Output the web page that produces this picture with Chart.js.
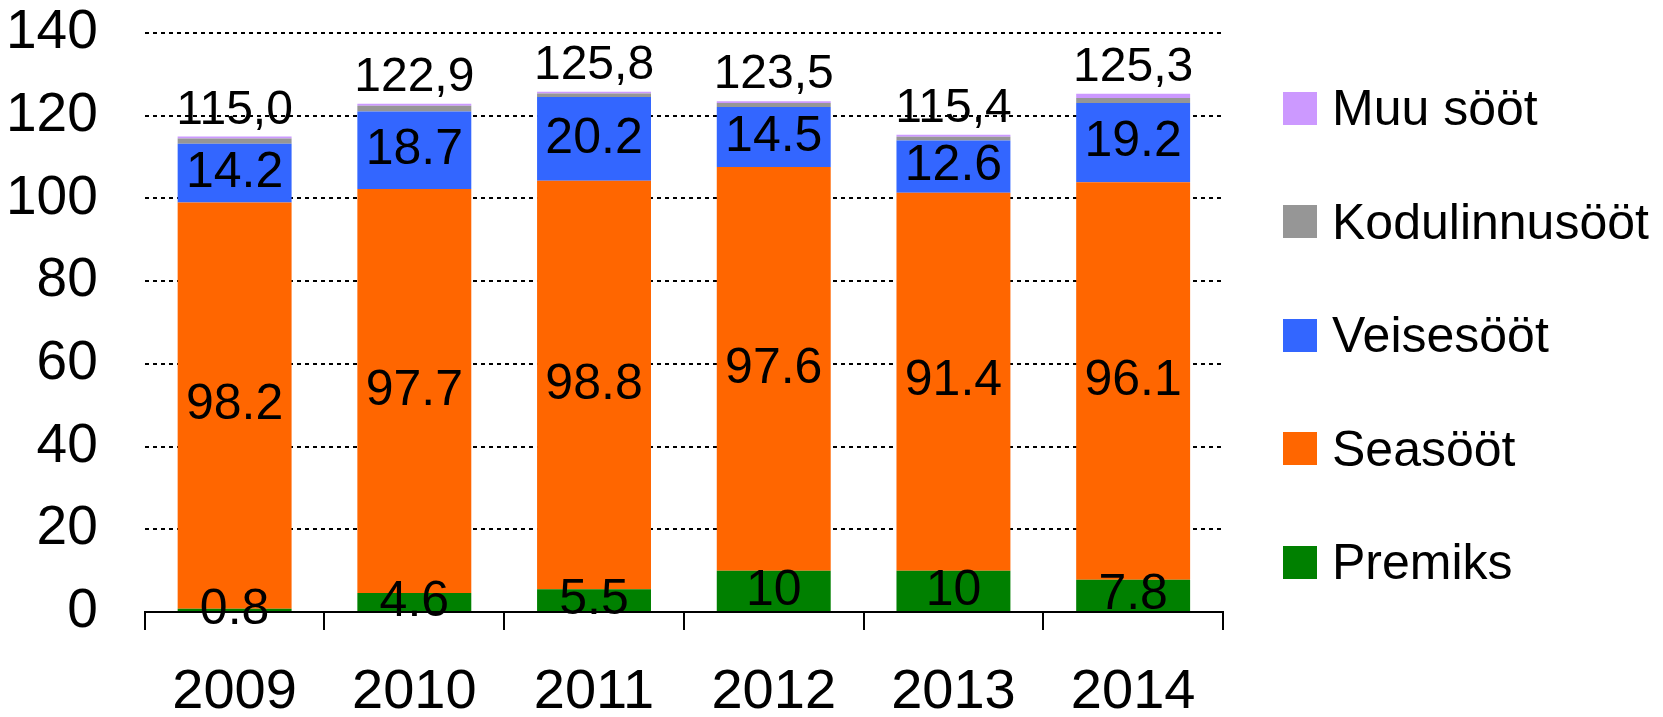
<!DOCTYPE html>
<html lang="et">
<head>
<meta charset="UTF-8">
<title>Söödad</title>
<style>
  html, body { margin: 0; padding: 0; background: #fff; }
  .wrap { position: relative; width: 1663px; height: 717px; }
  #graafik { position: absolute; left: 0; top: 0; }
  .legend { position: absolute; left: 1283px; top: 83px; font-family: "Liberation Sans", Arial, sans-serif; font-size: 50px; color: #000; }
  .legend div { display: flex; align-items: center; height: 50px; margin-bottom: 63.5px; white-space: nowrap; }
  .legend span { display: inline-block; width: 34px; height: 33px; margin-right: 15px; }
</style>
</head>
<body>
<div class="wrap">
  <canvas id="graafik" width="1663" height="717"></canvas>
  <div class="legend" id="legend"></div>
</div>

<script src="https://cdn.jsdelivr.net/npm/chart.js"></script>
<script>
// andmed
const aastad = ['2009', '2010', '2011', '2012', '2013', '2014'];
const premiks = [0.8, 4.6, 5.5, 10, 10, 7.8];
const seasoot = [98.2, 97.7, 98.8, 97.6, 91.4, 96.1];
const veisesoot = [14.2, 18.7, 20.2, 14.5, 12.6, 19.2];
const kodulinnusoot = [1.3, 1.4, 0.9, 1.0, 0.9, 1.2];
const muusoot = [0.5, 0.5, 0.4, 0.4, 0.5, 1.0];
const yTicks = [0, 20, 40, 60, 80, 100, 120, 140];

const font = '"Liberation Sans", Arial, sans-serif';

const seeriad = [
  { label: 'Premiks', data: premiks, color: '#008000', silt: true },
  { label: 'Seasööt', data: seasoot, color: '#FF6600', silt: true },
  { label: 'Veisesööt', data: veisesoot, color: '#3366FF', silt: true },
  { label: 'Kodulinnusööt', data: kodulinnusoot, color: '#969696', silt: false },
  { label: 'Muu sööt', data: muusoot, color: '#CC99FF', silt: false }
];

// siltide joonistamine (väärtused lõikudes + kogusummad)
const siltidePlugin = {
  id: 'sildid',
  afterDatasetsDraw(chart) {
    const ctx = chart.ctx;
    ctx.save();
    ctx.fillStyle = '#000';
    ctx.textAlign = 'center';
    ctx.textBaseline = 'middle';
    ctx.font = '50px ' + font;
    seeriad.forEach((s, di) => {
      if (!s.silt) return;
      chart.getDatasetMeta(di).data.forEach((el, i) => {
        const p = el.getProps(['x', 'y', 'base'], true);
        ctx.fillText(String(s.data[i]), p.x, (p.y + p.base) / 2);
      });
    });
    ctx.font = '48px ' + font;
    const viimane = chart.getDatasetMeta(seeriad.length - 1);
    viimane.data.forEach((el, i) => {
      const p = el.getProps(['x', 'y'], true);
      const kokku = seeriad.reduce((a, s) => a + s.data[i], 0);
      ctx.fillText(kokku.toFixed(1).replace('.', ','), p.x, p.y - 26);
    });
    ctx.restore();
  }
};

const ctx = document.getElementById('graafik').getContext('2d');
new Chart(ctx, {
  type: 'bar',
  data: {
    labels: aastad,
    datasets: seeriad.map(s => ({
      label: s.label,
      data: s.data,
      backgroundColor: s.color,
      borderWidth: 0,
      categoryPercentage: 1,
      barPercentage: 0.634
    }))
  },
  options: {
    responsive: false,
    animation: false,
    layout: { padding: { left: 6, right: 440, top: 32, bottom: 0 } },
    plugins: {
      legend: { display: false },
      tooltip: { enabled: false }
    },
    scales: {
      x: {
        stacked: true,
        afterFit(scale) { scale.height = 105; },
        grid: { offset: true, drawOnChartArea: false, color: '#000', lineWidth: 2, tickLength: 18 },
        border: { color: '#000', width: 2 },
        ticks: { color: '#000', font: { family: font, size: 56, lineHeight: 0.85 }, padding: 39, maxRotation: 0 }
      },
      y: {
        stacked: true,
        min: 0,
        max: 140,
        afterBuildTicks(axis) { axis.ticks = yTicks.map(v => ({ value: v })); },
        grid: { color: '#000', lineWidth: 2, tickLength: 47, tickColor: 'rgba(0,0,0,0)' },
        border: { display: false, dash: [4, 4] },
        ticks: { color: '#000', font: { family: font, size: 55 }, padding: 0 }
      }
    }
  },
  plugins: [siltidePlugin]
});

// legend HTML-ina (pööratud järjekord)
const leg = document.getElementById('legend');
seeriad.slice().reverse().forEach(s => {
  const d = document.createElement('div');
  const box = document.createElement('span');
  box.style.background = s.color;
  d.appendChild(box);
  d.appendChild(document.createTextNode(s.label));
  leg.appendChild(d);
});
</script>
</body>
</html>
